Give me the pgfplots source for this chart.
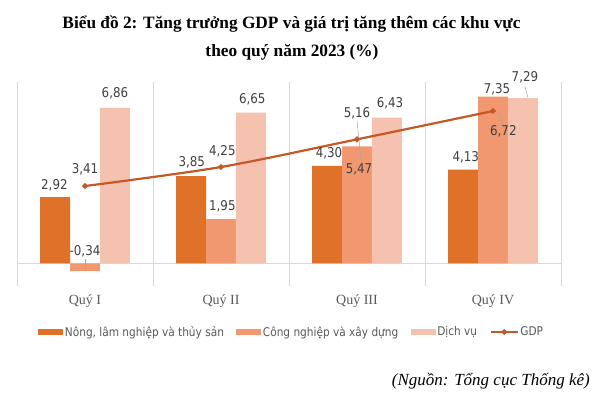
\documentclass[border=0pt]{standalone}
\usepackage{fontspec}
\usepackage{pgfplots}
\pgfplotsset{compat=1.18}
\setmainfont{Liberation Serif}
\newfontfamily\tah{DejaVu Sans}[FakeStretch=0.88]
\definecolor{c1}{HTML}{DF7128}
\definecolor{c2}{HTML}{F19870}
\definecolor{c3}{HTML}{F5C2B0}
\definecolor{cg}{HTML}{C45926}
\definecolor{gridc}{HTML}{D9D9D9}
\definecolor{txt}{HTML}{404040}
\definecolor{legtxt}{HTML}{595959}
\begin{document}
\begin{tikzpicture}
\path[use as bounding box] (0,0) rectangle (596bp,395bp);
\begin{axis}[
  at={(17bp,109bp)}, anchor=south west,
  scale only axis, width=544bp, height=204bp,
  xmin=-0.5, xmax=3.5, ymin=-1, ymax=8,
  clip=false,
  axis line style={draw=none},
  major tick length=0pt,
  ytick=\empty,
  extra y ticks={0}, extra y tick labels={},
  extra y tick style={grid=major, major grid style={gridc, line width=0.8bp}},
  xtick={0,1,2,3},
  xticklabels={Quý I, Quý II, Quý III, Quý IV},
  xticklabel style={font=\fontsize{14bp}{16bp}\selectfont, text=legtxt, yshift=-5bp},
  extra x ticks={-0.5,0.5,1.5,2.5,3.5}, extra x tick labels={},
  extra x tick style={grid=major, major grid style={gridc, line width=0.8bp}},
  legend columns=4,
  legend style={at={(0.5046,-0.2255)}, anchor=center, draw=none,
    font=\tah\fontsize{12bp}{14bp}\selectfont, text=legtxt,
    nodes={inner sep=1.5bp},
    /tikz/every even column/.style={column sep=11bp}},
]
\addplot[ybar, bar width=0.22, bar shift=-0.22, fill=c1, draw=none,
  legend image code/.code={\fill[c1] (0bp,-3bp) rectangle (25bp,3bp);}]
  coordinates {(0,2.92) (1,3.85) (2,4.30) (3,4.13)};
\addlegendentry{Nông, lâm nghiệp và thủy sản}
\addplot[ybar, bar width=0.22, bar shift=0, fill=c2, draw=none,
  legend image code/.code={\fill[c2] (0bp,-3bp) rectangle (25bp,3bp);}]
  coordinates {(0,-0.34) (1,1.95) (2,5.16) (3,7.35)};
\addlegendentry{Công nghiệp và xây dựng}
\addplot[ybar, bar width=0.22, bar shift=0.22, fill=c3, draw=none,
  legend image code/.code={\fill[c3] (0bp,-3bp) rectangle (25bp,3bp);}]
  coordinates {(0,6.86) (1,6.65) (2,6.43) (3,7.29)};
\addlegendentry{Dịch vụ}
\addplot[smooth, color=cg, line width=2.2bp, mark=*, mark size=1.6bp,
  legend image code/.code={\draw[cg, line width=2.2bp] (0bp,0bp) -- (27bp,0bp); \fill[cg] (13.5bp,0bp) circle (1.6bp);}]
  coordinates {(0,3.41) (1,4.25) (2,5.47) (3,6.72)};
\addlegendentry{GDP}
% leader lines
\draw[gray!70, line width=0.5bp] (axis cs:0,0.2) -- (axis cs:0,-0.3);
\draw[gray!70, line width=0.5bp] (axis cs:2.0,6.3) -- (axis cs:2.03,4.54);
\draw[gray!70, line width=0.5bp] (axis cs:3.235,7.81) -- (axis cs:3.257,7.31);
\draw[gray!70, line width=0.5bp] (axis cs:3.03,6.75) -- (axis cs:3.074,6.09);
% data labels
\addplot[draw=none, mark=none, forget plot,
  nodes near coords, point meta=explicit symbolic,
  every node near coord/.append style={anchor=center, inner sep=0pt,
    font=\tah\fontsize{13.5bp}{15bp}\selectfont, text=txt}]
  table[meta=label] {
x y label
-0.225 3.44 2,92
0.0 0.53 -0,34
0.22 7.49 6,86
0.0 4.13 3,41
0.785 4.44 3,85
1.01 2.53 1,95
1.23 7.26 6,65
1.01 4.95 4,25
1.794 4.87 4,30
2.0 6.60 5,16
2.243 7.04 6,43
2.015 4.13 5,47
2.8 4.69 4,13
3.03 7.68 7,35
3.235 8.19 7,29
3.076 5.82 6,72
};
\end{axis}
\node[anchor=base, font=\bfseries\fontsize{17.3bp}{20bp}\selectfont] at (291.5bp,366bp)
  {Biểu đồ 2: Tăng trưởng GDP và giá trị tăng thêm các khu vực};
\node[anchor=base, font=\bfseries\fontsize{17.3bp}{20bp}\selectfont] at (292bp,338bp)
  {theo quý năm 2023 (\%)};
\node[anchor=base east, font=\itshape\fontsize{17bp}{20bp}\selectfont, inner sep=0pt] at (590bp,10bp)
  {(Nguồn: Tổng cục Thống kê)};
\end{tikzpicture}
\end{document}
